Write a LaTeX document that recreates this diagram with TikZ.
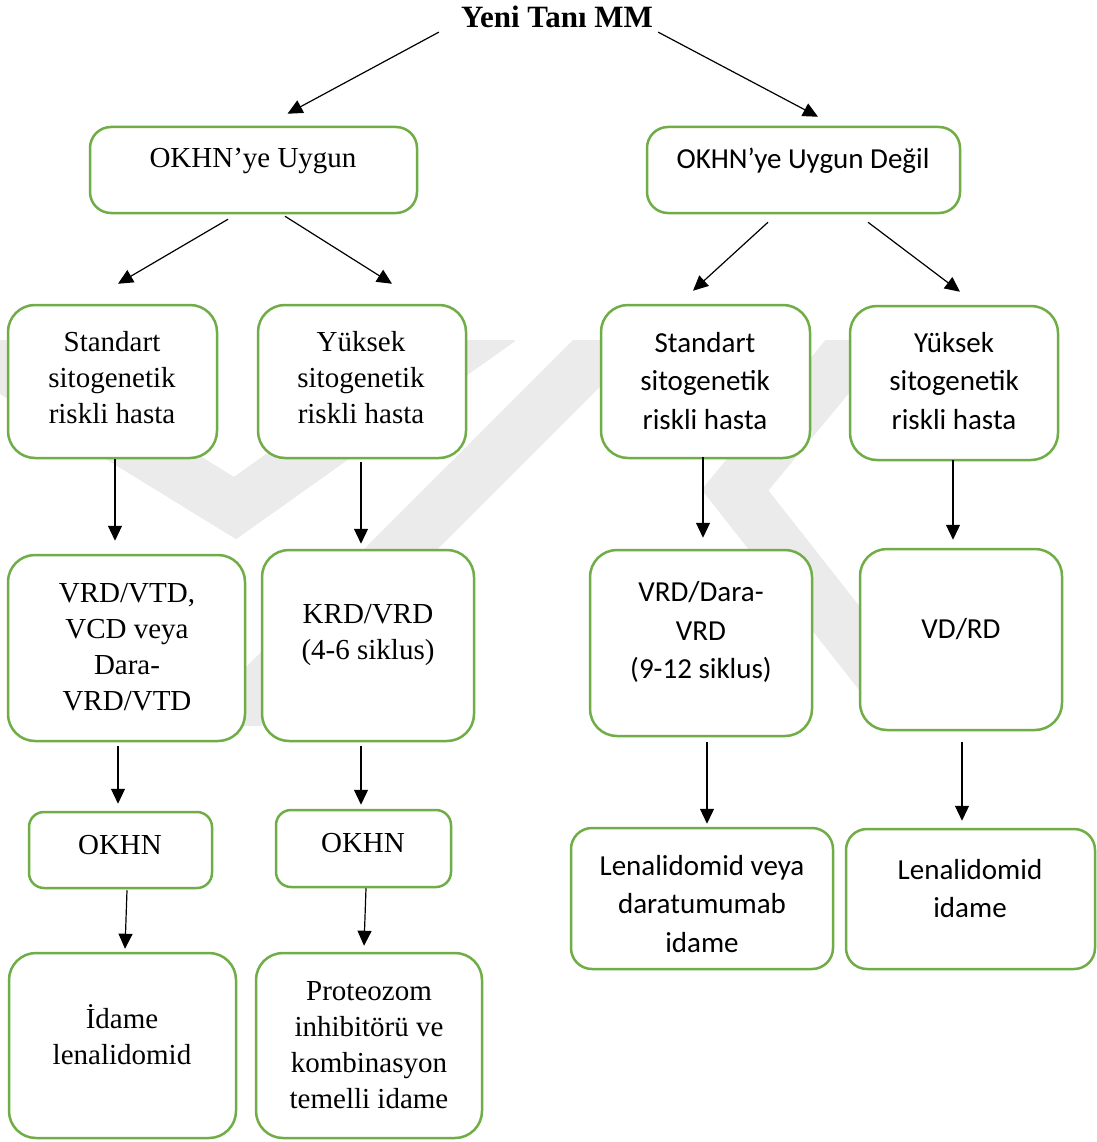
\documentclass[tikz,border=0pt]{standalone}
\usepackage{fontspec}
\setmainfont{Liberation Serif}
\newfontfamily\calfont{Carlito}
\usetikzlibrary{arrows.meta,calc}
\definecolor{wgreen}{HTML}{70AD47}
\definecolor{wmgray}{HTML}{EBEBEB}
\newcommand\tnrsize{\fontsize{29}{36}\selectfont}
\newcommand\calsize{\calfont\fontsize{29}{38.5}\selectfont}
\tikzset{
  box/.style={draw=wgreen, line width=2.5pt, rounded corners=27pt, fill=white, inner sep=0pt},
  mbox/.style={box, rounded corners=21pt},
  sbox/.style={box, rounded corners=15pt},
  ttxt/.style={align=center, inner sep=0pt, font=\tnrsize},
  ctxt/.style={align=center, inner sep=0pt, font=\calsize},
  arr/.style={line width=1.2pt, -{Triangle[length=15pt,width=14pt]}},
  wm/.style={draw=wmgray, line width=52pt, line join=miter, line cap=butt}
}
\begin{document}
\begin{tikzpicture}[x=1pt,y=-1pt]
\useasboundingbox (0,0) rectangle (1096,1142);
\fill[white] (0,0) rectangle (1096,1142);
% watermark
\begin{scope}
\clip (0,340) rectangle (1096,725);
\draw[wm] (-30,345) -- (235,508) -- (500,320);
\draw[wm] (630,320) -- (230,720) -- (210,740);
\draw[wm] (880,315) -- (735,490) -- (900,700);
\end{scope}
% title
\node[inner sep=0pt, font=\bfseries\fontsize{31}{36}\selectfont] (T) at (557,17) {Yeni Tanı MM};
% row 1
\node[mbox, minimum width=327pt, minimum height=86pt] (U) at (253.5,170) {};
\node[ttxt] (Ut) at (253,161) {OKHN’ye Uygun};
\node[mbox, minimum width=313pt, minimum height=86pt] (UD) at (803.5,170) {};
\node[ctxt] (UDt) at (803,161) {OKHN’ye Uygun Değil};
% row 2
\node[box, minimum width=209pt, minimum height=153pt] (A) at (112.5,381.5) {};
\node[ttxt] (At) at (112,378) {Standart\\sitogenetik\\riskli hasta};
\node[box, minimum width=208pt, minimum height=153pt] (B) at (362,381.5) {};
\node[ttxt] (Bt) at (361,378) {Yüksek\\sitogenetik\\riskli hasta};
\node[box, minimum width=209pt, minimum height=153pt] (C) at (705.5,381.5) {};
\node[ctxt] (Ct) at (705,381) {Standart\\sitogenetik\\riskli hasta};
\node[box, minimum width=208pt, minimum height=154pt] (D) at (954,383) {};
\node[ctxt] (Dt) at (954,381) {Yüksek\\sitogenetik\\riskli hasta};
% row 3
\node[box, minimum width=237pt, minimum height=186pt] (E) at (126.5,648) {};
\node[ttxt] (Et) at (127,647) {VRD/VTD,\\VCD veya\\Dara-\\VRD/VTD};
\node[box, minimum width=212pt, minimum height=191pt] (F) at (368,645.5) {};
\node[ttxt] (Ft) at (368,635) {KRD/VRD\\(4-6 siklus)};
\node[box, minimum width=222pt, minimum height=186pt] (G) at (701,643) {};
\node[ctxt] (Gt) at (701,632) {VRD/Dara-\\VRD\\(9-12 siklus)};
\node[box, minimum width=202pt, minimum height=181pt] (H) at (961,639.5) {};
\node[ctxt] (Ht) at (961,629) {VD/RD};
% row 4
\node[sbox, minimum width=183pt, minimum height=76pt] (I) at (120.5,850) {};
\node[ttxt] (It) at (120,845) {OKHN};
\node[sbox, minimum width=175pt, minimum height=77pt] (J) at (363.5,848.5) {};
\node[ttxt] (Jt) at (363,843) {OKHN};
\node[mbox, minimum width=262pt, minimum height=141pt] (K) at (702,898.5) {};
\node[ctxt] (Kt) at (702,904) {Lenalidomid veya\\daratumumab\\idame};
\node[mbox, minimum width=249pt, minimum height=140pt] (L) at (970.5,899) {};
\node[ctxt] (Lt) at (970,888.5) {Lenalidomid\\idame};
% row 5
\node[box, minimum width=227pt, minimum height=185pt] (M) at (122.5,1045.5) {};
\node[ttxt] (Mt) at (122,1035) {İdame\\lenalidomid};
\node[box, minimum width=226pt, minimum height=185pt] (N) at (369,1045.5) {};
\node[ttxt] (Nt) at (369,1045) {Proteozom\\inhibitörü ve\\kombinasyon\\temelli idame};
% arrows
\draw[arr] ($(T.south west)+(-22,4)$) -- ($(U.north)+(34,-12)$);
\draw[arr] ($(T.south east)+(5,4)$) -- ($(UD.north)+(14.5,-9)$);
\draw[arr] ($(U.south)+(-25.5,5)$) -- ($(A.north)+(5.5,-20)$);
\draw[arr] ($(U.south)+(31.5,2)$) -- ($(B.north)+(30,-20)$);
\draw[arr] ($(UD.south)+(-35.5,8)$) -- ($(C.north)+(-12.5,-13)$);
\draw[arr] ($(UD.south)+(64.5,8)$) -- ($(D.north)+(6,-13)$);
\draw[arr] ($(A.south)+(2.5,0)$) -- ($(E.north)+(-11.5,-13)$);
\draw[arr] ($(B.south)+(-1,3)$) -- ($(F.north)+(-7,-5)$);
\draw[arr] ($(C.south)+(-2.5,-2)$) -- ($(G.north)+(2,-11)$);
\draw[arr] ($(D.south)+(-1,-1)$) -- ($(H.north)+(-8,-8)$);
\draw[arr] ($(E.south)+(-8.5,4)$) -- ($(I.north)+(-2.5,-7)$);
\draw[arr] ($(F.south)+(-7,4)$) -- ($(J.north)+(-2.5,-4)$);
\draw[arr] ($(G.south)+(6,5)$) -- ($(K.north)+(5,-3)$);
\draw[arr] ($(H.south)+(1,11)$) -- ($(L.north)+(-8.5,-7)$);
\draw[arr] ($(I.south)+(6.5,1)$) -- ($(M.north)+(2.5,-3)$);
\draw[arr] ($(J.south)+(2.5,0)$) -- ($(N.north)+(-5,-6)$);
\end{tikzpicture}
\end{document}
